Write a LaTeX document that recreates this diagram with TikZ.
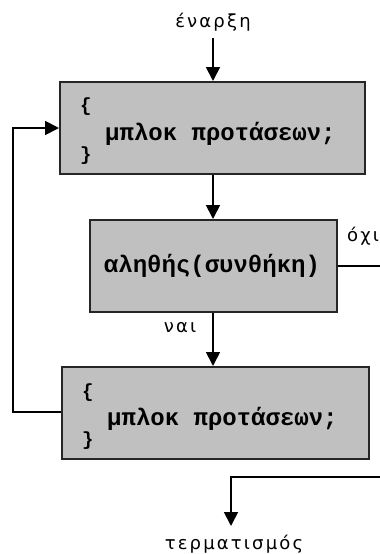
\documentclass[tikz,border=0pt]{standalone}
\usepackage{fontspec}
\setmainfont{Liberation Sans}
\newfontfamily\lblfont[LetterSpace=12]{DejaVu Sans}
\newfontfamily\codefont{Liberation Mono}
\usetikzlibrary{arrows.meta}
\definecolor{boxgray}{RGB}{192,192,192}
\tikzset{
  blk/.style={draw=black!85, line width=1.5pt, fill=boxgray, inner sep=0pt, anchor=north west},
  lbl/.style={font=\lblfont\fontsize{18}{20}\selectfont, inner sep=0pt},
  code/.style={font=\codefont\bfseries\fontsize{24}{26}\selectfont, inner sep=0pt},
  brace/.style={font=\codefont\bfseries\fontsize{19}{20}\selectfont, inner sep=0pt},
  conn/.style={line width=1.8pt, -{Triangle[length=14pt,width=14pt]}},
  plain/.style={line width=1.8pt}
}
\begin{document}
\begin{tikzpicture}[x=1pt,y=-1pt]
\useasboundingbox (0,0) rectangle (380,554);
\clip (0,0) rectangle (380,554);
% labels
\node[lbl] (start) at (213,22) {έναρξη};
\node[lbl] (end) at (234,544) {τερματισμός};
% boxes
\node[blk, minimum width=305pt, minimum height=92pt] (b1) at (59,81) {};
\node[blk, minimum width=247pt, minimum height=92pt] (b2) at (89,219) {};
\node[blk, minimum width=307pt, minimum height=92pt] (b3) at (61,366) {};
% box texts
\node[brace, anchor=west] (b1o) at (80,107) {\{};
\node[code, anchor=west] (b1t) at (105,134) {μπλοκ προτάσεων;};
\node[brace, anchor=west] (b1c) at (80,156) {\}};
\node[code] (b2t) at (212,266) {αληθής(συνθήκη)};
\node[brace, anchor=west] (b3o) at (82,393) {\{};
\node[code, anchor=west] (b3t) at (107,419) {μπλοκ προτάσεων;};
\node[brace, anchor=west] (b3c) at (82,441) {\}};
% branch labels
\node[lbl, anchor=west] (no) at (347,236) {όχι};
\node[lbl] (yes) at (180,328) {ναι};
% coordinates
\coordinate (s0) at (213,38);
\coordinate (l1) at (13,412);
\coordinate (l2) at (13,128);
\coordinate (r1) at (382,266);
\coordinate (r2) at (382,477);
\coordinate (r3) at (231,477);
\coordinate (e0) at (231,526);
% connectors
\draw[conn] (s0) -- (b1.north -| s0);
\draw[conn] (b1.south -| s0) -- (b2.north -| s0);
\draw[conn] (b2.south -| s0) -- (b3.north -| s0);
\draw[conn] (b3.west |- l1) -- (l1) -- (l2) -- (b1.west |- l2);
\draw[plain] (b2.east |- r1) -- (r1);
\draw[conn] (r2) -- (r3) -- (e0);
\end{tikzpicture}
\end{document}
